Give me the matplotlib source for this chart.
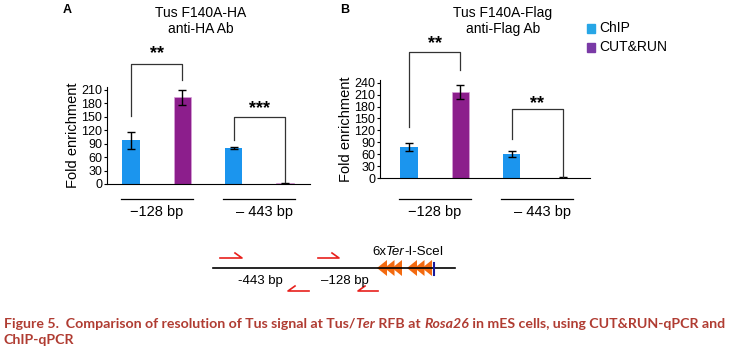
import matplotlib
matplotlib.use("Agg")
import matplotlib.pyplot as plt
import numpy as np

plt.rcParams['font.family'] = ['Liberation Sans', 'DejaVu Sans']

# data
groups = ["\u2212128 bp", "\u2013 443 bp"]
series = ["ChIP", "CUT&RUN"]

# panel A: Tus F140A-HA, anti-HA Ab
a_chip = [97, 80]
a_chip_err = [19, 3]
a_cut = [193, 2]
a_cut_err = [17, 1]
a_stars = ["**", "***"]
a_yticks = np.arange(0, 211, 30)

# panel B: Tus F140A-Flag, anti-Flag Ab
b_chip = [78, 61]
b_chip_err = [10, 7]
b_cut = [217, 1]
b_cut_err = [18, 0.5]
b_stars = ["**", "**"]
b_yticks = np.arange(0, 241, 30)

chip_color = "#1b95ee"
cut_color = "#8c1e8c"
W, H = 729, 352


def px_axes(fig, left, top, right, bottom):
    return fig.add_axes([left / W, 1 - bottom / H, (right - left) / W, (bottom - top) / H])


# one panel of the figure
## brackets: (top, left drop, right drop, star height) in data units for each group
def draw_panel(ax, chip, chip_err, cut, cut_err, stars, yticks, ymax, xlim, brackets, under_y, label_y):
    pos = np.arange(4)
    chip_x = pos[[0, 2]]
    cut_x = pos[[1, 3]]
    bw = 0.34
    ax.bar(chip_x, chip, bw, color=chip_color)
    ax.bar(cut_x, cut, bw, color=cut_color, edgecolor="#d9a0d9", linewidth=0.5)
    ax.errorbar(chip_x, chip, yerr=chip_err, fmt="none", ecolor="black", elinewidth=1, capsize=3, capthick=1)
    ax.errorbar(cut_x, cut, yerr=cut_err, fmt="none", ecolor="black", elinewidth=1, capsize=3, capthick=1)

    ax.set_xlim(*xlim)
    ax.set_ylim(0, ymax)
    ax.set_yticks(yticks)
    ax.set_xticks([])
    ax.tick_params(axis="y", length=2.5, width=0.8, pad=1, labelsize=9)
    for s in ["top", "right"]:
        ax.spines[s].set_visible(False)
    ax.spines["left"].set_linewidth(0.8)
    ax.spines["bottom"].set_linewidth(0.8)
    ax.set_ylabel("Fold enrichment", fontsize=10.5, labelpad=1)

    for i in range(2):
        x1, x2 = chip_x[i], cut_x[i]
        top, ldrop, rdrop, sy = brackets[i]
        ax.plot([x1, x1, x2, x2], [ldrop, top, top, rdrop], color="#333333", lw=0.9, clip_on=False)
        ax.text((x1 + x2) / 2, sy, stars[i], ha="center", va="center", fontsize=13, fontweight="bold")
        ax.plot([x1 - 0.2, x2 + 0.2], [under_y, under_y], color="black", lw=0.9, clip_on=False)
        ax.text((x1 + x2) / 2 + (0.1 if i else 0), label_y, groups[i], ha="center", va="center", fontsize=10.5)


fig = plt.figure(figsize=(W / 100, H / 100), dpi=100)

ax_a = px_axes(fig, 107, 87, 310, 184)
draw_panel(ax_a, a_chip, a_chip_err, a_cut, a_cut_err, a_stars, a_yticks, 216, (-0.47, 3.49),
           [(268, 152, 232, 290), (150, 98, 5, 168)], -33, -62)

ax_b = px_axes(fig, 380, 80, 590, 178)
draw_panel(ax_b, b_chip, b_chip_err, b_cut, b_cut_err, b_stars, b_yticks, 247, (-0.57, 3.53),
           [(318, 129, 272, 340), (174, 98, 3, 188)], -53, -86)

# overlay in pixel coordinates for text and the schematic
ov = fig.add_axes([0, 0, 1, 1])
ov.set_xlim(0, W)
ov.set_ylim(H, 0)
ov.axis("off")
ov.patch.set_alpha(0)

ov.text(67, 10, "A", fontsize=9, fontweight="bold", ha="center", va="center")
ov.text(345, 10, "B", fontsize=9, fontweight="bold", ha="center", va="center")
ov.text(201, 21, "Tus F140A-HA\nanti-HA Ab", fontsize=10, ha="center", va="center", linespacing=1.15)
ov.text(503, 21, "Tus F140A-Flag\nanti-Flag Ab", fontsize=10, ha="center", va="center", linespacing=1.15)

# legend
for yy, lab, col in [(28, series[0], "#27a6e6"), (47, series[1], "#7a3aa6")]:
    ov.add_patch(plt.Rectangle((587, yy - 4.5), 8, 9, color=col))
    ov.text(599, yy, lab, fontsize=10, va="center", ha="left")

# schematic of the locus
ov.plot([213, 455], [268, 268], color="black", lw=1.2)
fwd_primers = [(220, 242), (318, 339)]
rev_primers = [(288, 309), (358, 378)]
for x1, x2 in fwd_primers:
    ov.plot([x1, x2, x2 - 7], [258, 258, 253], color="#e8201c", lw=1.2)
for x1, x2 in rev_primers:
    ov.plot([x1 + 7, x1, x2], [286, 291, 291], color="#e8201c", lw=1.2)
ov.text(260, 281, "-443 bp", fontsize=9.5, ha="center", va="center")
ov.text(345, 281, "\u2013128 bp", fontsize=9.5, ha="center", va="center")
ter_tips = [377, 384.5, 392, 407, 414.5, 422]
for tx in ter_tips:
    ov.add_patch(plt.Polygon([(tx, 268), (tx + 10, 260), (tx + 10, 276)], closed=True, color="#f36a10", lw=0))
ov.plot([434, 434], [263, 275], color="#1a1a9a", lw=1.5)

renderer = fig.canvas.get_renderer()


def seq_text(x, y, parts, **kw):
    # draw text pieces one after another, switching style between pieces
    bar = ov.text(0, 0, "|", **kw)
    bw = bar.get_window_extent(renderer).width
    bar.remove()
    for s, style in parts:
        ov.text(x, y, s, style=style, **kw)
        probe = ov.text(0, 0, s + "|", style=style, **kw)
        x += probe.get_window_extent(renderer).width - bw
        probe.remove()


seq_text(372, 252, [("6x", "normal"), ("Ter", "italic"), ("-I-SceI", "normal")], fontsize=9.5, va="center")

cap_kw = dict(fontsize=10.2, va="center", color="#b03c32", fontweight="bold", family=["Lato", "DejaVu Sans"])
seq_text(4, 324, [("Figure 5.  Comparison of resolution of Tus signal at Tus/", "normal"), ("Ter", "italic"),
                  (" RFB at ", "normal"), ("Rosa26", "italic"),
                  (" in mES cells, using CUT&RUN-qPCR and", "normal")], **cap_kw)
seq_text(4, 340, [("ChIP-qPCR", "normal")], **cap_kw)

fig.savefig("out.png", dpi=100)
